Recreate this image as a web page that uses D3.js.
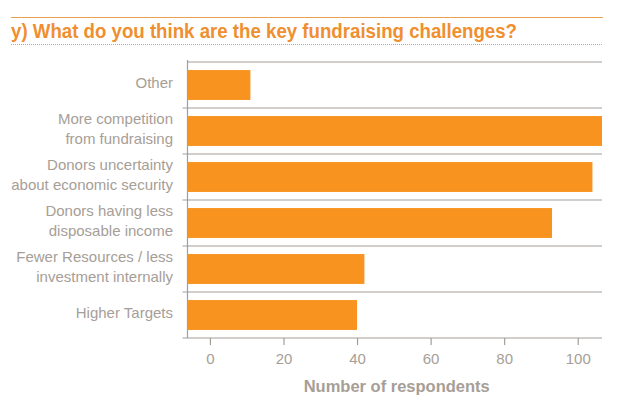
<!DOCTYPE html>
<html lang="en">
<head>
<meta charset="utf-8">
<title>Key fundraising challenges</title>
<style>
  body {
    margin: 0;
    padding: 0;
    background: #fff;
    overflow: hidden;
  }
  svg text {
    font-family: "Liberation Sans", Arial, sans-serif;
  }
  .title {
    font-weight: bold;
    font-size: 20px;
    fill: #ef8f2f;
  }
  .cat, .tick-label {
    font-size: 15px;
    fill: #a69e97;
  }
  .axis-title {
    font-size: 16.5px;
    font-weight: bold;
    fill: #a69e97;
  }
</style>
</head>
<body>
<svg id="chart" width="638" height="399"></svg>
<script src="https://cdnjs.cloudflare.com/ajax/libs/d3/7.8.5/d3.min.js"></script>
<script>
  var titleText = 'y) What do you think are the key fundraising challenges?';
  var axisTitle = 'Number of respondents';

  // categories, top to bottom (\n = line break in label)
  var categories = [
    'Other',
    'More competition\nfrom fundraising',
    'Donors uncertainty\nabout economic security',
    'Donors having less\ndisposable income',
    'Fewer Resources / less\ninvestment internally',
    'Higher Targets'
  ];
  var respondents = [11, 107, 104, 93, 42, 40];
  var xTicks = [0, 20, 40, 60, 80, 100];

  var svg = d3.select('#chart'),
      plotLeft = 187.5,
      plotRight = 602,
      plotTop = 62,
      plotBottom = 338,
      orange = '#f7931e',
      grey = '#a39d98';

  // header rules + title
  svg.append('line')
    .attr('x1', 11).attr('x2', 603)
    .attr('y1', 17.5).attr('y2', 17.5)
    .attr('stroke', '#e9a04f').attr('stroke-width', 1.2);

  svg.append('line')
    .attr('x1', 11).attr('x2', 603)
    .attr('y1', 44.5).attr('y2', 44.5)
    .attr('stroke', '#d9a05a').attr('stroke-width', 1)
    .attr('stroke-dasharray', '1,1');

  svg.append('text')
    .attr('class', 'title')
    .attr('x', 11)
    .attr('y', 38)
    .attr('textLength', 506)
    .attr('lengthAdjust', 'spacingAndGlyphs')
    .text(titleText);

  var x = d3.scaleLinear()
    .domain([-6.1, 106.6])
    .range([plotLeft, plotRight])
    .clamp(true);

  var y = d3.scaleBand()
    .domain(categories)
    .range([plotTop, plotBottom])
    .paddingInner(0.35)
    .paddingOuter(0.175);

  var step = y.step();

  // band separators
  svg.selectAll('.sep')
    .data(d3.range(categories.length + 1))
    .enter().append('line')
    .attr('class', 'sep')
    .attr('x1', function (i) { return i === 0 ? plotLeft : plotLeft - 5; })
    .attr('x2', plotRight)
    .attr('y1', function (i) { return plotTop + i * step; })
    .attr('y2', function (i) { return plotTop + i * step; })
    .attr('stroke', grey)
    .attr('stroke-width', 1.2);

  // y axis line
  svg.append('line')
    .attr('x1', plotLeft).attr('x2', plotLeft)
    .attr('y1', 60).attr('y2', plotBottom)
    .attr('stroke', grey).attr('stroke-width', 1.2);

  // bars
  svg.selectAll('.bar')
    .data(categories)
    .enter().append('rect')
    .attr('class', 'bar')
    .attr('x', plotLeft)
    .attr('y', function (d) { return y(d); })
    .attr('width', function (d, i) { return x(respondents[i]) - plotLeft; })
    .attr('height', y.bandwidth())
    .attr('fill', orange);

  // category labels
  var labels = svg.selectAll('.cat')
    .data(categories)
    .enter().append('text')
    .attr('class', 'cat')
    .attr('text-anchor', 'end');

  labels.each(function (d) {
    var lines = d.split('\n'),
        cy = y(d) + y.bandwidth() / 2,
        lh = 19.5,
        first = cy + 3 - (lines.length - 1) * lh / 2;
    var t = d3.select(this);
    lines.forEach(function (ln, k) {
      t.append('tspan')
        .attr('x', 173)
        .attr('y', first + k * lh)
        .text(ln);
    });
  });

  // x axis
  var xAxis = svg.append('g')
    .attr('transform', 'translate(0,' + plotBottom + ')')
    .call(d3.axisBottom(x).tickValues(xTicks).tickSize(7).tickPadding(8));

  xAxis.select('.domain').remove();
  xAxis.selectAll('.tick line')
    .attr('stroke', grey)
    .attr('stroke-width', 1.2);
  xAxis.selectAll('.tick text')
    .attr('class', 'tick-label')
    .attr('font-family', null)
    .attr('font-size', null)
    .attr('fill', null);

  svg.append('text')
    .attr('class', 'axis-title')
    .attr('x', (plotLeft + plotRight) / 2 + 2)
    .attr('y', 392)
    .attr('text-anchor', 'middle')
    .text(axisTitle);
</script>
</body>
</html>
